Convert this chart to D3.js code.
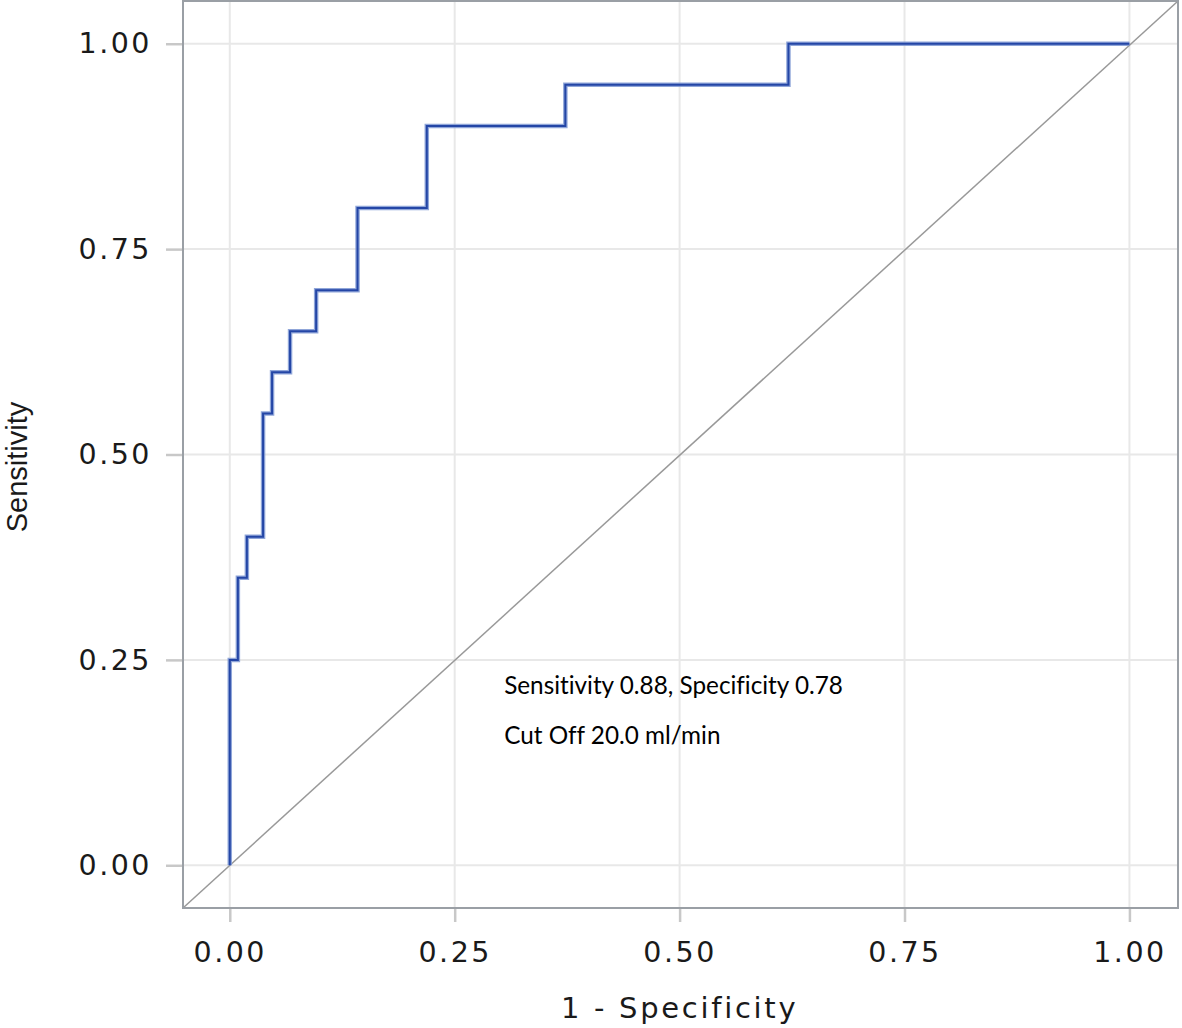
<!DOCTYPE html>
<html>
<head>
<meta charset="utf-8">
<script src="https://cdn.jsdelivr.net/npm/d3@7"></script>
<style>
  html, body { margin: 0; padding: 0; background: #ffffff; }
  svg { display: block; }
</style>
</head>
<body>
<svg id="chart" width="1182" height="1028"></svg>
<script>
// ROC curve step points (1 - specificity, sensitivity)
const fpr = [0.000, 0.000, 0.009, 0.009, 0.019, 0.019, 0.037, 0.037, 0.047, 0.047, 0.067, 0.067, 0.096, 0.096, 0.142, 0.142, 0.219, 0.219, 0.373, 0.373, 0.621, 0.621, 1.000];
const tpr = [0.000, 0.250, 0.250, 0.350, 0.350, 0.400, 0.400, 0.550, 0.550, 0.600, 0.600, 0.650, 0.650, 0.700, 0.700, 0.800, 0.800, 0.900, 0.900, 0.950, 0.950, 1.000, 1.000];
const xTicks = [0, 0.25, 0.5, 0.75, 1];
const yTicks = [0, 0.25, 0.5, 0.75, 1];
const xTickLabels = ["0.00", "0.25", "0.50", "0.75", "1.00"];
const yTickLabels = ["0.00", "0.25", "0.50", "0.75", "1.00"];
const annotations = ["Sensitivity 0.88, Specificity 0.78", "Cut Off 20.0 ml/min"];
const annotX = [0.305, 0.305];
const annotY = [0.209, 0.148];
const xTitle = "1 - Specificity";
const yTitle = "Sensitivity";

const svg = d3.select("#chart");
const L = 183, R = 1178, T = 1, B = 908;
const x = d3.scaleLinear().domain([-0.052, 1.054]).range([L, R]);
const y = d3.scaleLinear().domain([-0.052, 1.052]).range([B, T]);

// gridlines
const g = svg.append("g");
g.selectAll("line.gx").data(xTicks).enter().append("line")
  .attr("x1", d => x(d)).attr("x2", d => x(d)).attr("y1", T).attr("y2", B)
  .attr("stroke", "#e8e8e8").attr("stroke-width", 2);
g.selectAll("line.gy").data(yTicks).enter().append("line")
  .attr("y1", d => y(d)).attr("y2", d => y(d)).attr("x1", L).attr("x2", R)
  .attr("stroke", "#e8e8e8").attr("stroke-width", 2);

// diagonal reference
svg.append("line")
  .attr("x1", x(-0.052)).attr("y1", y(-0.052))
  .attr("x2", x(1.054)).attr("y2", y(1.052))
  .attr("stroke", "#999999").attr("stroke-width", 1.5);

// ROC line
const pts = fpr.map((f, i) => [f, tpr[i]]);
const line = d3.line().x(d => x(d[0])).y(d => y(d[1]));
svg.append("path").datum(pts).attr("d", line)
  .attr("fill", "none").attr("stroke", "#7c96d2").attr("stroke-width", 4.5)
  .attr("stroke-opacity", 0.85);
svg.append("path").datum(pts).attr("d", line)
  .attr("fill", "none").attr("stroke", "#2446a6").attr("stroke-width", 2);

// axes
const xAxis = d3.axisBottom(x).tickValues(xTicks).tickFormat((d, i) => xTickLabels[i]).tickSize(14).tickPadding(20);
const yAxis = d3.axisLeft(y).tickValues(yTicks).tickFormat((d, i) => yTickLabels[i]).tickSize(17).tickPadding(14);
const gx = svg.append("g").attr("transform", `translate(0,${B})`).call(xAxis);
const gy = svg.append("g").attr("transform", `translate(${L},0)`).call(yAxis);
[gx, gy].forEach(a => {
  a.select(".domain").remove();
  a.selectAll(".tick line").attr("stroke", "#c8c8c8").attr("stroke-width", 2.5);
  a.selectAll(".tick text").attr("fill", "#1a1a1a")
    .style("font-family", "'DejaVu Sans', Verdana, sans-serif")
    .style("font-size", "28.5px").style("letter-spacing", "2.5px");
});

// panel border
svg.append("rect").attr("x", L).attr("y", T).attr("width", R - L).attr("height", B - T)
  .attr("fill", "none").attr("stroke", "#9a9fa5").attr("stroke-width", 2);

// axis titles
svg.append("text").attr("x", (x(0) + x(1)) / 2 + 0).attr("y", 1018)
  .attr("text-anchor", "middle").attr("fill", "#1a1a1a")
  .style("font-family", "'DejaVu Sans', Verdana, sans-serif")
  .style("font-size", "29px").style("letter-spacing", "2.7px")
  .text(xTitle);
svg.append("text").attr("transform", "translate(27,467) rotate(-90)")
  .attr("text-anchor", "middle").attr("fill", "#1a1a1a")
  .style("font-family", "'Liberation Sans Narrow', 'Liberation Sans', Arial, sans-serif")
  .style("font-size", "29px")
  .text(yTitle);

// annotations
svg.selectAll("text.ann").data(annotations).enter().append("text")
  .attr("class", "ann")
  .attr("x", (d, i) => x(annotX[i])).attr("y", (d, i) => y(annotY[i]))
  .attr("fill", "#000")
  .style("font-family", "Lato, 'Open Sans', sans-serif")
  .style("font-variant-ligatures", "none")
  .style("font-size", "24.3px")
  .text(d => d);
</script>
</body>
</html>
